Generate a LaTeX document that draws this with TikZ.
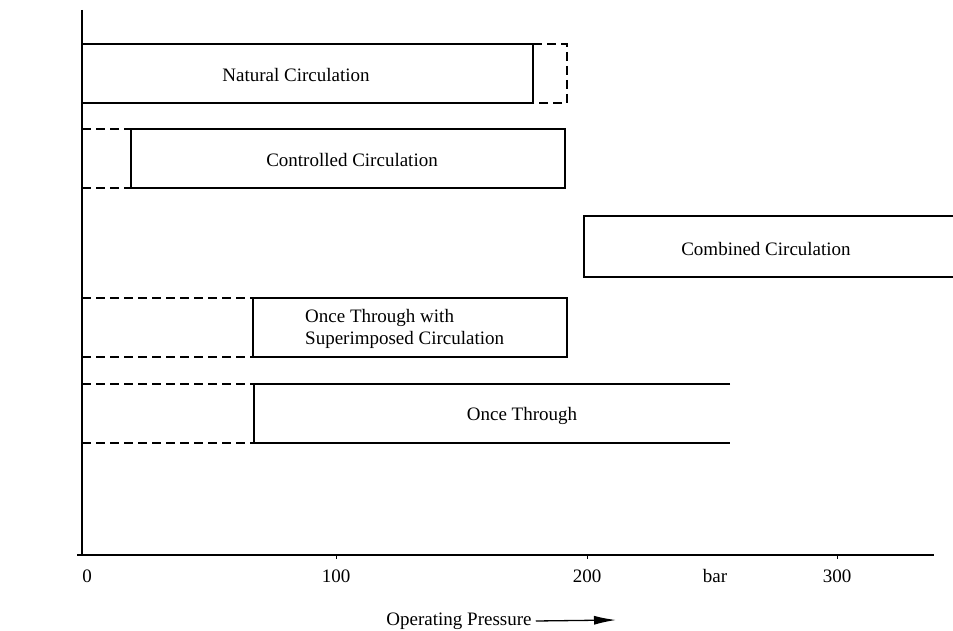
\documentclass[tikz,border=0pt]{standalone}
\usepackage{fontspec}
\setmainfont{Liberation Serif}
\usetikzlibrary{arrows.meta}

\begin{document}
\begin{tikzpicture}[x=1pt, y=-1pt,
		solidline/.style={line width=1.6pt},
		dashline/.style={line width=1.6pt, dash pattern=on 9pt off 5pt},
		txt/.style={inner sep=0pt, font=\fontsize{19}{22}\selectfont}]
		%%%%% START %%%%%
		
		\useasboundingbox (0, 0) rectangle (953, 631);
		
		% axes
		\draw[line width=1.3pt] (82, 10) -- (82, 555);
		\draw[line width=1.3pt] (77, 555) -- (934, 555);
		\foreach \x in {336, 587, 837}
			\draw[line width=1pt] (\x, 555) -- (\x, 559);
		
		\node[txt] (zero) at (87, 576) {0};
		\node[txt] (hundred) at (336, 576) {100};
		\node[txt] (twohundred) at (587, 576) {200};
		\node[txt] (barunit) at (715, 576) {bar};
		\node[txt] (threehundred) at (837, 576) {300};
		
		\node[txt] (oplabel) at (459, 621) {Operating Pressure};
		\coordinate (arrowend) at (616, 620);
		\draw[line width=1.3pt, -{Latex[length=22pt, width=9pt]}] ([xshift=4pt]oplabel.east) -- (arrowend);
		
		% natural circulation
		\draw[solidline] (82, 44) -- (533, 44) -- (533, 103) -- (82, 103);
		\draw[dashline] (533, 44) -- (567, 44) -- (567, 103) -- (533, 103);
		\node[txt] (natural) at (296, 75) {Natural Circulation};
		
		% controlled circulation
		\draw[dashline] (82, 129) -- (131, 129);
		\draw[dashline] (82, 188) -- (131, 188);
		\draw[solidline] (131, 129) rectangle (565, 188);
		\node[txt] (controlled) at (352, 160) {Controlled Circulation};
		
		% combined circulation
		\draw[solidline] (953, 216) -- (584, 216) -- (584, 277) -- (953, 277);
		\node[txt] (combined) at (766, 249) {Combined Circulation};
		
		% once through with superimposed circulation
		\draw[dashline] (82, 298) -- (253, 298);
		\draw[dashline] (82, 357) -- (253, 357);
		\draw[solidline] (253, 298) rectangle (567, 357);
		\node[txt, anchor=west] (superone) at (305, 318) {Once Through with};
		\node[txt, anchor=west] (supertwo) at (305, 340) {Superimposed Circulation};
		
		% once through
		\draw[dashline] (82, 384) -- (254, 384);
		\draw[dashline] (82, 443) -- (254, 443);
		\draw[solidline] (730, 384) -- (254, 384) -- (254, 443) -- (730, 443);
		\node[txt] (oncethrough) at (522, 416) {Once Through};
		
		%%%%% END %%%%%
	\end{tikzpicture}
\end{document}
